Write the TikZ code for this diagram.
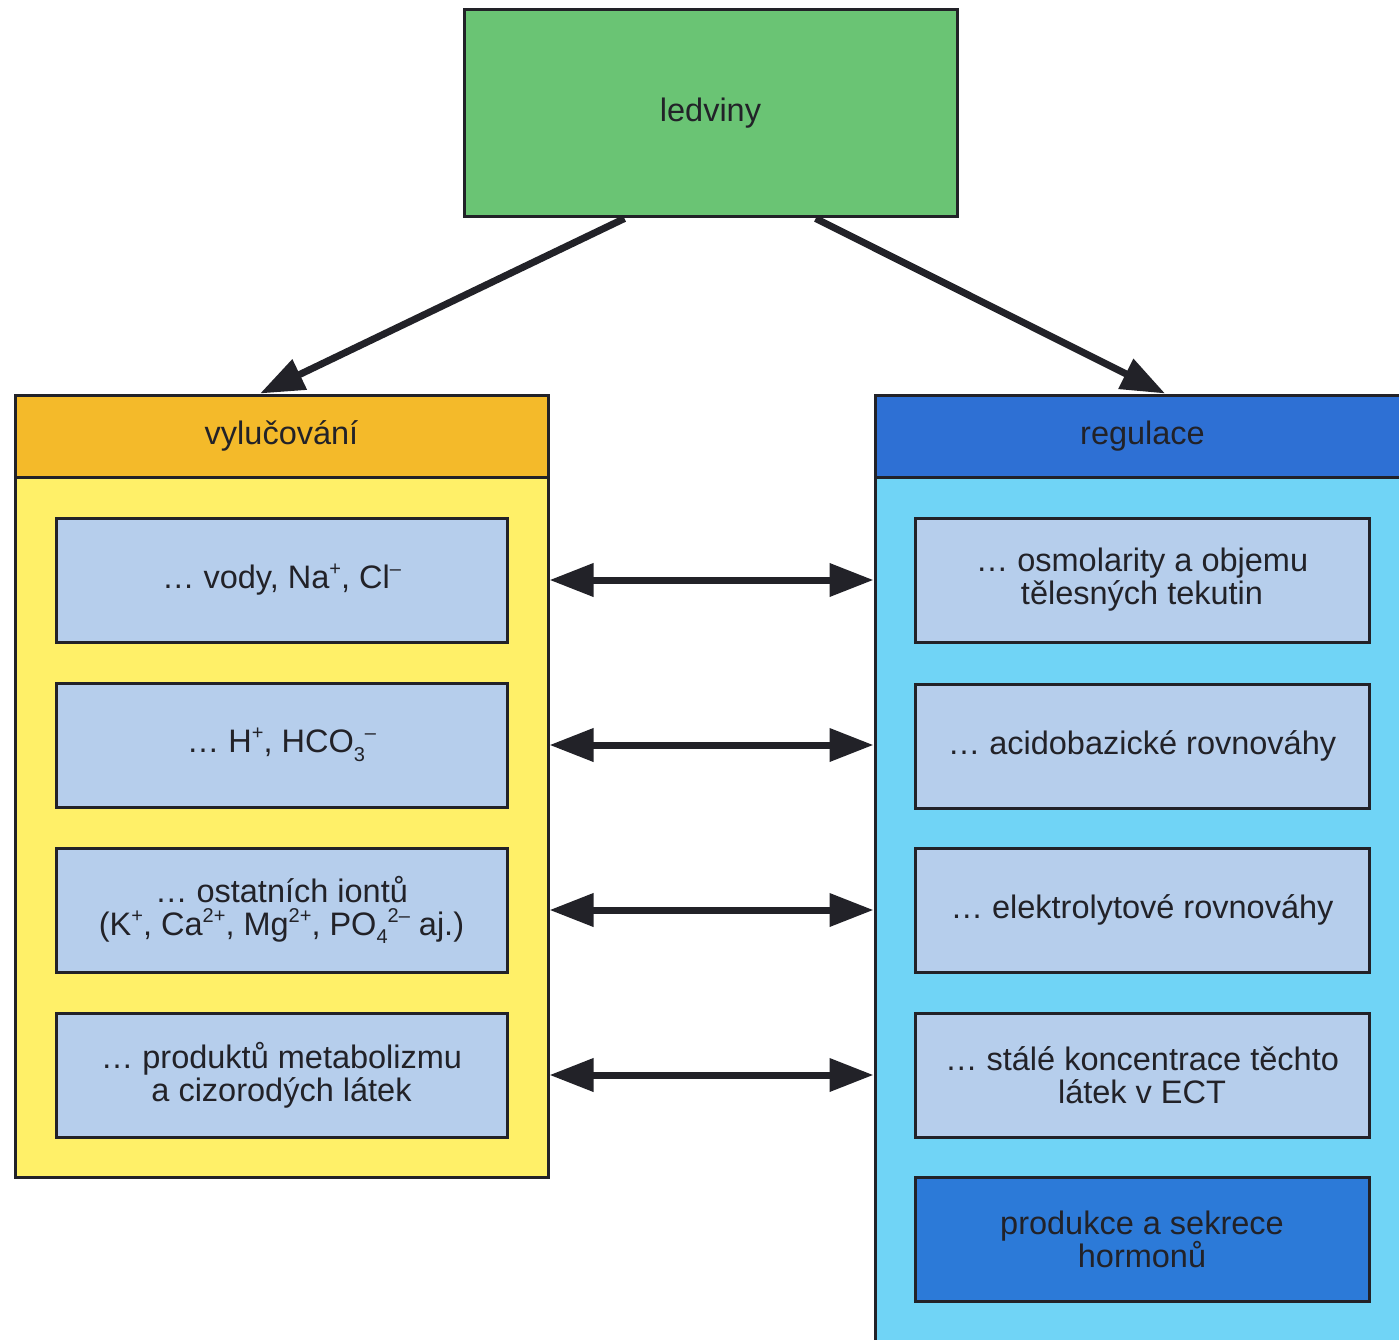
\documentclass[tikz,border=0pt]{standalone}
\usepackage{fontspec}
\setmainfont{Liberation Sans}
\usetikzlibrary{arrows.meta,calc}
\definecolor{topgreen}{RGB}{106,196,116}
\definecolor{orhead}{RGB}{244,186,42}
\definecolor{yelbody}{RGB}{255,240,104}
\definecolor{bluehead}{RGB}{46,112,212}
\definecolor{bluebody}{RGB}{112,212,246}
\definecolor{innerfill}{RGB}{182,206,236}
\definecolor{darkinner}{RGB}{44,122,216}
\definecolor{ink}{RGB}{34,34,40}
\newcommand\mysup[1]{\raisebox{0.40em}{\fontsize{20}{20}\selectfont #1}}
\newcommand\mysub[1]{\raisebox{-0.26em}{\fontsize{20}{20}\selectfont #1}}
\begin{document}
\begin{tikzpicture}[x=1pt,y=-1pt,
  every node/.style={font=\fontsize{32.5}{33}\selectfont, text=ink},
  boxbase/.style={draw=ink, line width=3pt, rectangle, inner sep=0pt, align=center},
  innerbox/.style={boxbase, fill=innerfill, minimum width=451pt, minimum height=124pt},
  rinnerbox/.style={boxbase, fill=innerfill, minimum width=454pt, minimum height=124pt},
  bigarrow/.style={draw=ink, line width=7pt, -{Triangle[length=44pt,width=32pt]}},
  dblarrow/.style={draw=ink, line width=7pt, {Triangle[length=44pt,width=32pt]}-{Triangle[length=44pt,width=32pt]}}
]
\clip (0,0) rectangle (1399,1340);
\fill[white] (0,0) rectangle (1399,1340);

% top box
\node[boxbase, fill=topgreen, minimum width=493pt, minimum height=207pt] (top) at (710.5,113.5) {ledviny};

% left container
\node[boxbase, fill=yelbody, minimum width=533pt, minimum height=700pt] (lbody) at (281.5,827) {};
\node[boxbase, fill=orhead, minimum width=533pt, minimum height=82pt] (lhead) at (281.5,436) {vylučování};

% right container (extends beyond the picture)
\node[boxbase, fill=bluebody, minimum width=535pt, minimum height=900pt] (rbody) at (1142.5,927) {};
\node[boxbase, fill=bluehead, minimum width=535pt, minimum height=82pt] (rhead) at (1142.5,436) {regulace};

% left inner boxes
\node[innerbox] (l1) at (281.5,580) {\dots\ vody, Na\mysup{+}, Cl\mysup{–}};
\node[innerbox] (l2) at (281.5,745) {\dots\ H\mysup{+}, HCO\mysub{3}\mysup{–}};
\node[innerbox] (l3) at (281.5,910) {\dots\ ostatních iontů\\(K\mysup{+}, Ca\mysup{2+}, Mg\mysup{2+}, PO\mysub{4}\mysup{2–} aj.)};
\node[innerbox] (l4) at (281.5,1075) {\dots\ produktů metabolizmu\\a cizorodých látek};

% right inner boxes
\node[rinnerbox] (r1) at (1142,580) {\dots\ osmolarity a objemu\\tělesných tekutin};
\node[rinnerbox] (r2) at (1142,746) {\dots\ acidobazické rovnováhy};
\node[rinnerbox] (r3) at (1142,910) {\dots\ elektrolytové rovnováhy};
\node[rinnerbox] (r4) at (1142,1075) {\dots\ stálé koncentrace těchto\\látek v ECT};
\node[rinnerbox, fill=darkinner] (r5) at (1142,1239) {produkce a sekrece\\hormonů};

% arrows from top
\draw[bigarrow] ($(top.south west)!0.3266!(top.south east)$) -- ($(lhead.north west)!0.46!(lhead.north east)$);
\draw[bigarrow] ($(top.south west)!0.712!(top.south east)$) -- ($(rhead.north west)!0.542!(rhead.north east)$);

% double arrows
\foreach \i in {1,2,3,4}{
  \draw[dblarrow] (l\i.east -| lbody.east) -- (l\i.east -| rbody.west);
}
\end{tikzpicture}
\end{document}
